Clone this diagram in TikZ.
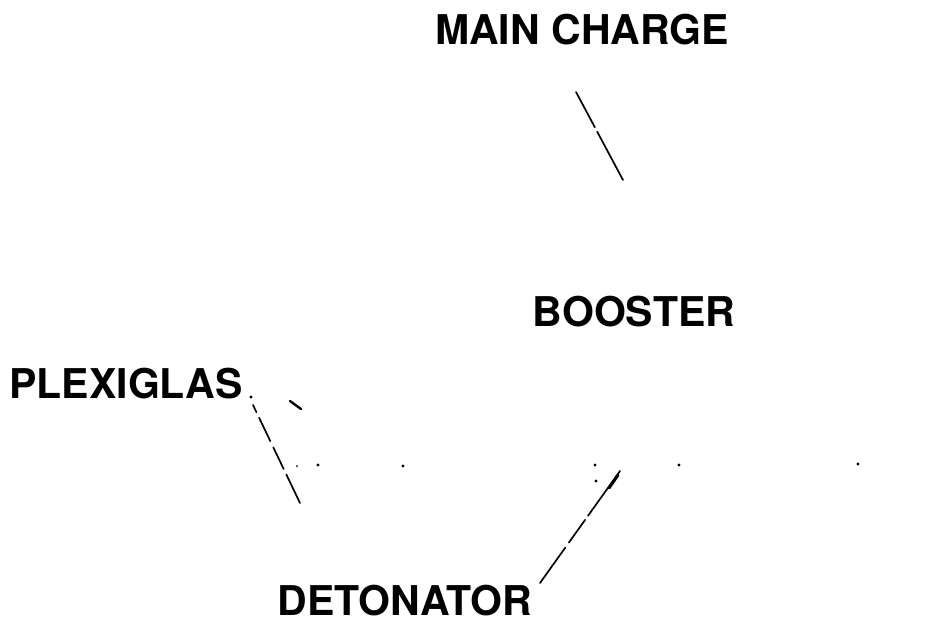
\documentclass[tikz,border=0pt]{standalone}
\usepackage{fontspec}
\setmainfont{TeX Gyre Heros}
\begin{document}
\begin{tikzpicture}[x=1pt,y=-1pt,
  lbl/.style={font=\fontsize{41}{49}\selectfont\bfseries, inner sep=0pt, anchor=base},
  leader/.style={line width=1.7pt, line cap=round},
  speck/.style={fill=black, circle, inner sep=0pt, minimum size=3.2pt},
  tinyspeck/.style={fill=black, circle, inner sep=0pt, minimum size=2pt}]
\fill[white] (0,0) rectangle (943,641);
\useasboundingbox (0,0) rectangle (943,641);

% labels
\node[lbl] (mc) at (582,44) {MAIN CHARGE};
\node[lbl] (bo) at (634,326) {BOOSTER};
\node[lbl] (pl) at (126,398) {PLEXIGLAS};
\node[lbl] (de) at (405,615) {DETONATOR};

% main charge leader
\coordinate (mcA) at (576,92);
\coordinate (mcB) at (623,180);
\draw[leader, dash pattern=on 40pt off 5pt on 100pt] (mcA) -- (mcB);

% plexiglas leader
\node[speck] (plDot) at (251,397) {};
\coordinate (plA) at (253,405);
\coordinate (plB) at (300,503);
\draw[leader, dash pattern=on 8pt off 6pt on 26pt off 7pt on 24pt off 6pt on 40pt] (plA) -- (plB);

% short stroke near plexiglas
\coordinate (stA) at (290,401);
\coordinate (stB) at (301,409);
\draw[line width=2.4pt, line cap=round] (stA) -- (stB);

% row of specks
\node[tinyspeck] (d0) at (297,466) {};
\node[speck] (d1) at (318,465) {};
\node[speck] (d2) at (403,466) {};
\node[speck] (d3) at (595,465) {};
\node[speck] (d3b) at (596,481) {};
\node[speck] (d4) at (679,465) {};
\node[speck] (d5) at (858,464) {};

% detonator leader
\coordinate (deA) at (620,471);
\coordinate (deB) at (540,583);
\draw[leader, dash pattern=on 55pt off 5pt on 28pt off 6pt on 60pt] (deA) -- (deB);
\coordinate (arA) at (618,475);
\coordinate (arB) at (609,488);
\draw[line width=3pt, line cap=round] (arA) -- (arB);
\end{tikzpicture}
\end{document}
